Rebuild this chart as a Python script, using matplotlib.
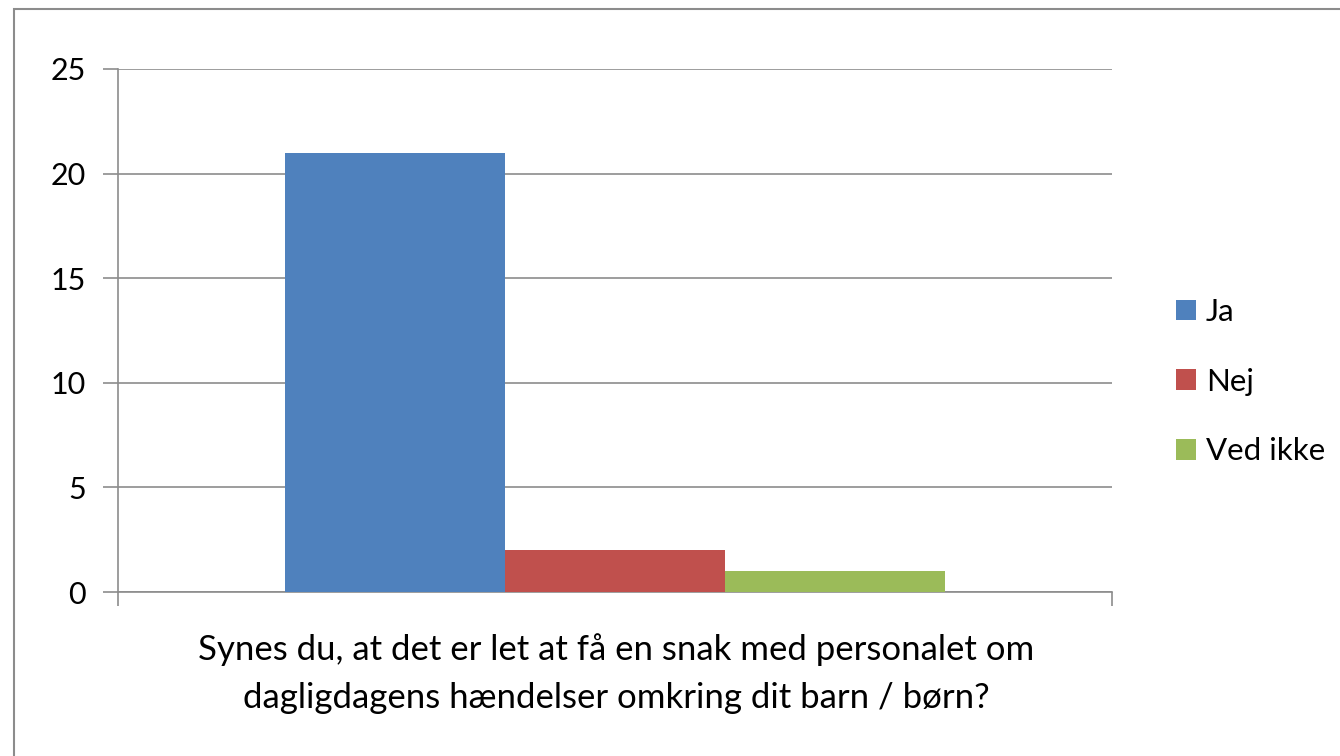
import matplotlib
matplotlib.use("Agg")
import matplotlib.pyplot as plt
from matplotlib.patches import Rectangle, Patch

# data
series = ["Ja", "Nej", "Ved ikke"]
values = [21, 2, 1]
colors = ["#4F81BD", "#C0504D", "#9BBB59"]
question = "Synes du, at det er let at få en snak med personalet om\ndagligdagens hændelser omkring dit barn / børn?"
yticks = [0, 5, 10, 15, 20, 25]

plt.rcParams['font.family'] = ['Lato', 'DejaVu Sans']

fig = plt.figure(figsize=(13.4, 7.56), dpi=100)
fig.patch.set_facecolor("white")

# outer chart border (only top and left visible in reference)
fig.patches.append(Rectangle((14/1340, -0.1), 2.0, 1 - 9/756 + 0.1,
                             transform=fig.transFigure, fill=False,
                             edgecolor="#8c8c8c", linewidth=1.5))

ax = fig.add_axes([118/1340, 1 - 592/756, (1112-118)/1340, (592-69)/756])

w = 0.2213
for i, (s, v, c) in enumerate(zip(series, values, colors)):
    ax.bar(0.5 + (i - 1) * w, v, width=w, color=c, label=s, zorder=3)

ax.set_xlim(0, 1)
ax.set_ylim(0, 25)
ax.set_yticks(yticks)
ax.set_yticklabels([str(t) for t in yticks], fontsize=22)
ax.yaxis.grid(True, color="#8c8c8c", linewidth=1.2, zorder=0)
ax.tick_params(axis="y", length=11, width=1.2, color="#8c8c8c", pad=12)

# category axis: ticks only at the boundaries
ax.set_xticks([0, 1])
ax.set_xticklabels(["", ""])
ax.tick_params(axis="x", length=10, width=1.2, color="#8c8c8c")

for side in ["top", "right"]:
    ax.spines[side].set_visible(False)
for side in ["left", "bottom"]:
    ax.spines[side].set_color("#8c8c8c")
    ax.spines[side].set_linewidth(1.2)

# category axis title
fig.text(616/1340, 1 - 674/756, question, fontsize=25, ha="center", va="center",
         multialignment="center", linespacing=1.62)

handles = [Patch(facecolor=c, edgecolor="none") for c in colors]
fig.legend(handles, series, loc="upper left", bbox_to_anchor=(1176/1340, 1 - 298/756),
           frameon=False, fontsize=22.5, handlelength=0.65, handleheight=0.65,
           handletextpad=0.3, labelspacing=1.33, borderpad=0, borderaxespad=0)

fig.savefig("out.png", dpi=100, facecolor="white")
